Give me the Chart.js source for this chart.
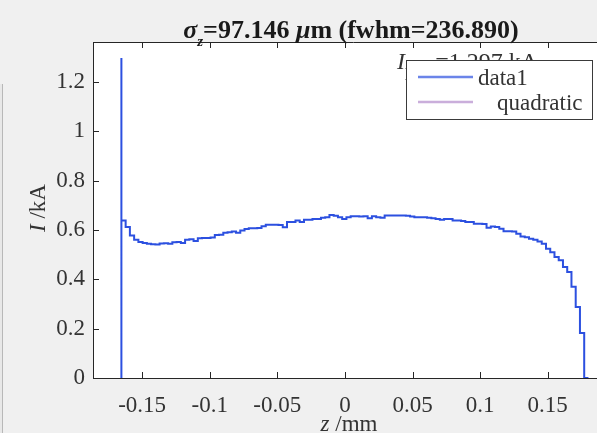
<!DOCTYPE html>
<html>
<head>
<meta charset="utf-8">
<script src="https://cdn.jsdelivr.net/npm/chart.js@4.4.0/dist/chart.umd.min.js"></script>
<style>
  html, body { margin: 0; padding: 0; background: #f0f0f0; overflow: hidden; }
  #wrap { position: relative; width: 597px; height: 433px; overflow: hidden; }
  #profile { position: absolute; left: 0; top: 0; }
  #edge { position: absolute; left: 0; top: 84px; width: 2px; height: 349px; border-right: 1px solid #b8b8b8; background: #e8e8e8; }
</style>
</head>
<body>
<div id="wrap">
  <canvas id="profile" width="630" height="433"></canvas>
  <div id="edge"></div>
</div>
<script>
// histogram bins along z (mm)
const zStart = -0.1653;
const zStep = 0.00314;

// current per bin (kA)
const current = [
  1.297, 0.638, 0.612, 0.578, 0.560, 0.551, 0.547, 0.544, 0.542, 0.541,
  0.545, 0.546, 0.544, 0.550, 0.551, 0.547, 0.560, 0.562, 0.555, 0.566,
  0.567, 0.567, 0.570, 0.580, 0.581, 0.589, 0.591, 0.594, 0.589, 0.598,
  0.604, 0.607, 0.607, 0.608, 0.615, 0.621, 0.621, 0.621, 0.620, 0.611,
  0.632, 0.632, 0.638, 0.632, 0.641, 0.641, 0.645, 0.645, 0.650, 0.652,
  0.661, 0.658, 0.652, 0.645, 0.652, 0.656, 0.656, 0.655, 0.656, 0.648,
  0.656, 0.652, 0.650, 0.659, 0.659, 0.659, 0.659, 0.659, 0.658, 0.655,
  0.652, 0.652, 0.652, 0.650, 0.648, 0.645, 0.641, 0.645, 0.645, 0.638,
  0.638, 0.636, 0.632, 0.632, 0.625, 0.625, 0.624, 0.609, 0.614, 0.612,
  0.605, 0.595, 0.595, 0.594, 0.585, 0.574, 0.571, 0.564, 0.560, 0.553,
  0.544, 0.524, 0.510, 0.490, 0.477, 0.450, 0.430, 0.370, 0.288, 0.182
];

// quadratic fit (not plotted, legend entry only)
const quadratic = [];

const seriesNames = ["data1", "quadratic"];
const seriesColors = ["#2c50e0", "#b48ccc"];

const xRange = [-0.1863, 0.199];
const yRange = [0, 1.362];
const xStep = 0.05;
const yStep = 0.2;

const sigmaZ = "97.146";
const fwhm = "236.890";
const peakCurrent = "1.297";

const serif = "'Liberation Serif', 'Times New Roman', serif";
const ink = "#262626";

// step outline: start and end on the axis
const points = [{ x: zStart, y: 0 }];
current.forEach((v, i) => points.push({ x: zStart + i * zStep, y: v }));
points.push({ x: zStart + current.length * zStep, y: 0 });

function runsWidth(ctx, runs) {
  let w = 0;
  runs.forEach(r => { ctx.font = r.font; w += ctx.measureText(r.text).width; });
  return w;
}
function drawRuns(ctx, runs, x, y) {
  runs.forEach(r => {
    ctx.font = r.font;
    ctx.fillText(r.text, x, y + (r.dy || 0));
    x += ctx.measureText(r.text).width;
  });
}

const fmt = v => String(Number(v.toFixed(2)));

const plotDecor = {
  id: "plotDecor",
  beforeDraw(chart) {
    const { ctx, chartArea: a } = chart;
    ctx.save();
    ctx.fillStyle = "#ffffff";
    ctx.fillRect(a.left, a.top, a.right - a.left, a.bottom - a.top);
    ctx.restore();
  },
  afterDraw(chart) {
    const { ctx, chartArea: a, scales } = chart;
    ctx.save();
    ctx.strokeStyle = ink;
    ctx.lineWidth = 1;

    // top box edge
    ctx.beginPath();
    ctx.moveTo(a.left, a.top + 0.5);
    ctx.lineTo(a.right, a.top + 0.5);
    ctx.stroke();

    // inward tick marks
    ctx.beginPath();
    scales.x.ticks.forEach(t => {
      const px = Math.round(scales.x.getPixelForValue(t.value)) + 0.5;
      ctx.moveTo(px, a.bottom); ctx.lineTo(px, a.bottom - 6);
      ctx.moveTo(px, a.top); ctx.lineTo(px, a.top + 6);
    });
    scales.y.ticks.forEach(t => {
      const py = Math.round(scales.y.getPixelForValue(t.value)) + 0.5;
      ctx.moveTo(a.left, py); ctx.lineTo(a.left + 6, py);
    });
    ctx.stroke();

    ctx.fillStyle = "#1a1a1a";
    ctx.textBaseline = "alphabetic";

    // title
    const bold = "bold 26px " + serif;
    const boldIt = "italic bold 26px " + serif;
    const title = [
      { text: "\u03c3", font: boldIt },
      { text: "z", font: "italic bold 15px " + serif, dy: 8 },
      { text: "=" + sigmaZ + " ", font: bold },
      { text: "\u03bc", font: boldIt },
      { text: "m (fwhm=" + fwhm + ")", font: bold }
    ];
    const cx = (a.left + 597) / 2 + 6;
    drawRuns(ctx, title, cx - runsWidth(ctx, title) / 2, 38);

    // peak current note, partly under the legend
    ctx.fillStyle = "#333333";
    drawRuns(ctx, [
      { text: "I", font: "italic 24px " + serif },
      { text: "peak", font: "16px " + serif, dy: 7 },
      { text: "=" + peakCurrent + " kA", font: "24px " + serif }
    ], a.left + 304, 69);

    // axis labels
    const xLab = [
      { text: "z", font: "italic 23px " + serif },
      { text: " /mm", font: "23px " + serif }
    ];
    drawRuns(ctx, xLab, 349 - runsWidth(ctx, xLab) / 2, 431);

    const yLab = [
      { text: "I", font: "italic 23px " + serif },
      { text: " /kA", font: "23px " + serif }
    ];
    ctx.save();
    ctx.translate(45, (a.top + a.bottom) / 2 - 2);
    ctx.rotate(-Math.PI / 2);
    drawRuns(ctx, yLab, -runsWidth(ctx, yLab) / 2, 0);
    ctx.restore();

    // legend box
    const lx = a.left + 313, ly = a.top + 18, lw = 186, lh = 59;
    ctx.fillStyle = "#ffffff";
    ctx.fillRect(lx, ly, lw, lh);
    ctx.strokeStyle = "#3a3a3a";
    ctx.strokeRect(lx + 0.5, ly + 0.5, lw, lh);
    const textX = [lx + 72, lx + 91];
    chart.data.datasets.forEach((ds, i) => {
      const y = ly + 17 + i * 25;
      ctx.strokeStyle = ds.borderColor;
      ctx.globalAlpha = 0.7;
      ctx.lineWidth = 2.5;
      ctx.beginPath();
      ctx.moveTo(lx + 12, y); ctx.lineTo(lx + 67, y);
      ctx.stroke();
      ctx.globalAlpha = 1;
      ctx.fillStyle = "#333333";
      ctx.font = "23px " + serif;
      ctx.fillText(ds.label, textX[i], y + 8);
    });
    ctx.restore();
  }
};

new Chart(document.getElementById("profile"), {
  type: "line",
  data: {
    datasets: [
      {
        label: seriesNames[0],
        data: points,
        borderColor: seriesColors[0],
        borderWidth: 2,
        stepped: "after",
        pointRadius: 0,
        fill: false
      },
      {
        label: seriesNames[1],
        data: quadratic,
        borderColor: seriesColors[1],
        borderWidth: 1.5,
        pointRadius: 0
      }
    ]
  },
  options: {
    responsive: false,
    animation: false,
    layout: { padding: { top: 42, right: 16, bottom: 0, left: 0 } },
    plugins: {
      legend: { display: false },
      title: { display: false },
      tooltip: { enabled: false }
    },
    scales: {
      x: {
        type: "linear",
        min: xRange[0],
        max: xRange[1],
        afterFit: s => { s.height = 55; },
        grid: { display: false, drawTicks: false },
        border: { display: true, color: ink, width: 1 },
        ticks: {
          stepSize: xStep,
          includeBounds: false,
          maxRotation: 0,
          autoSkip: false,
          padding: 14,
          color: "#333333",
          font: { family: serif, size: 23 },
          callback: v => fmt(v)
        }
      },
      y: {
        min: yRange[0],
        max: yRange[1],
        afterFit: s => { s.width = 93; },
        grid: { display: false, drawTicks: false },
        border: { display: true, color: ink, width: 1 },
        ticks: {
          stepSize: yStep,
          includeBounds: false,
          padding: 8,
          color: "#333333",
          font: { family: serif, size: 23 },
          callback: v => fmt(v)
        }
      }
    }
  },
  plugins: [plotDecor]
});
</script>
</body>
</html>
